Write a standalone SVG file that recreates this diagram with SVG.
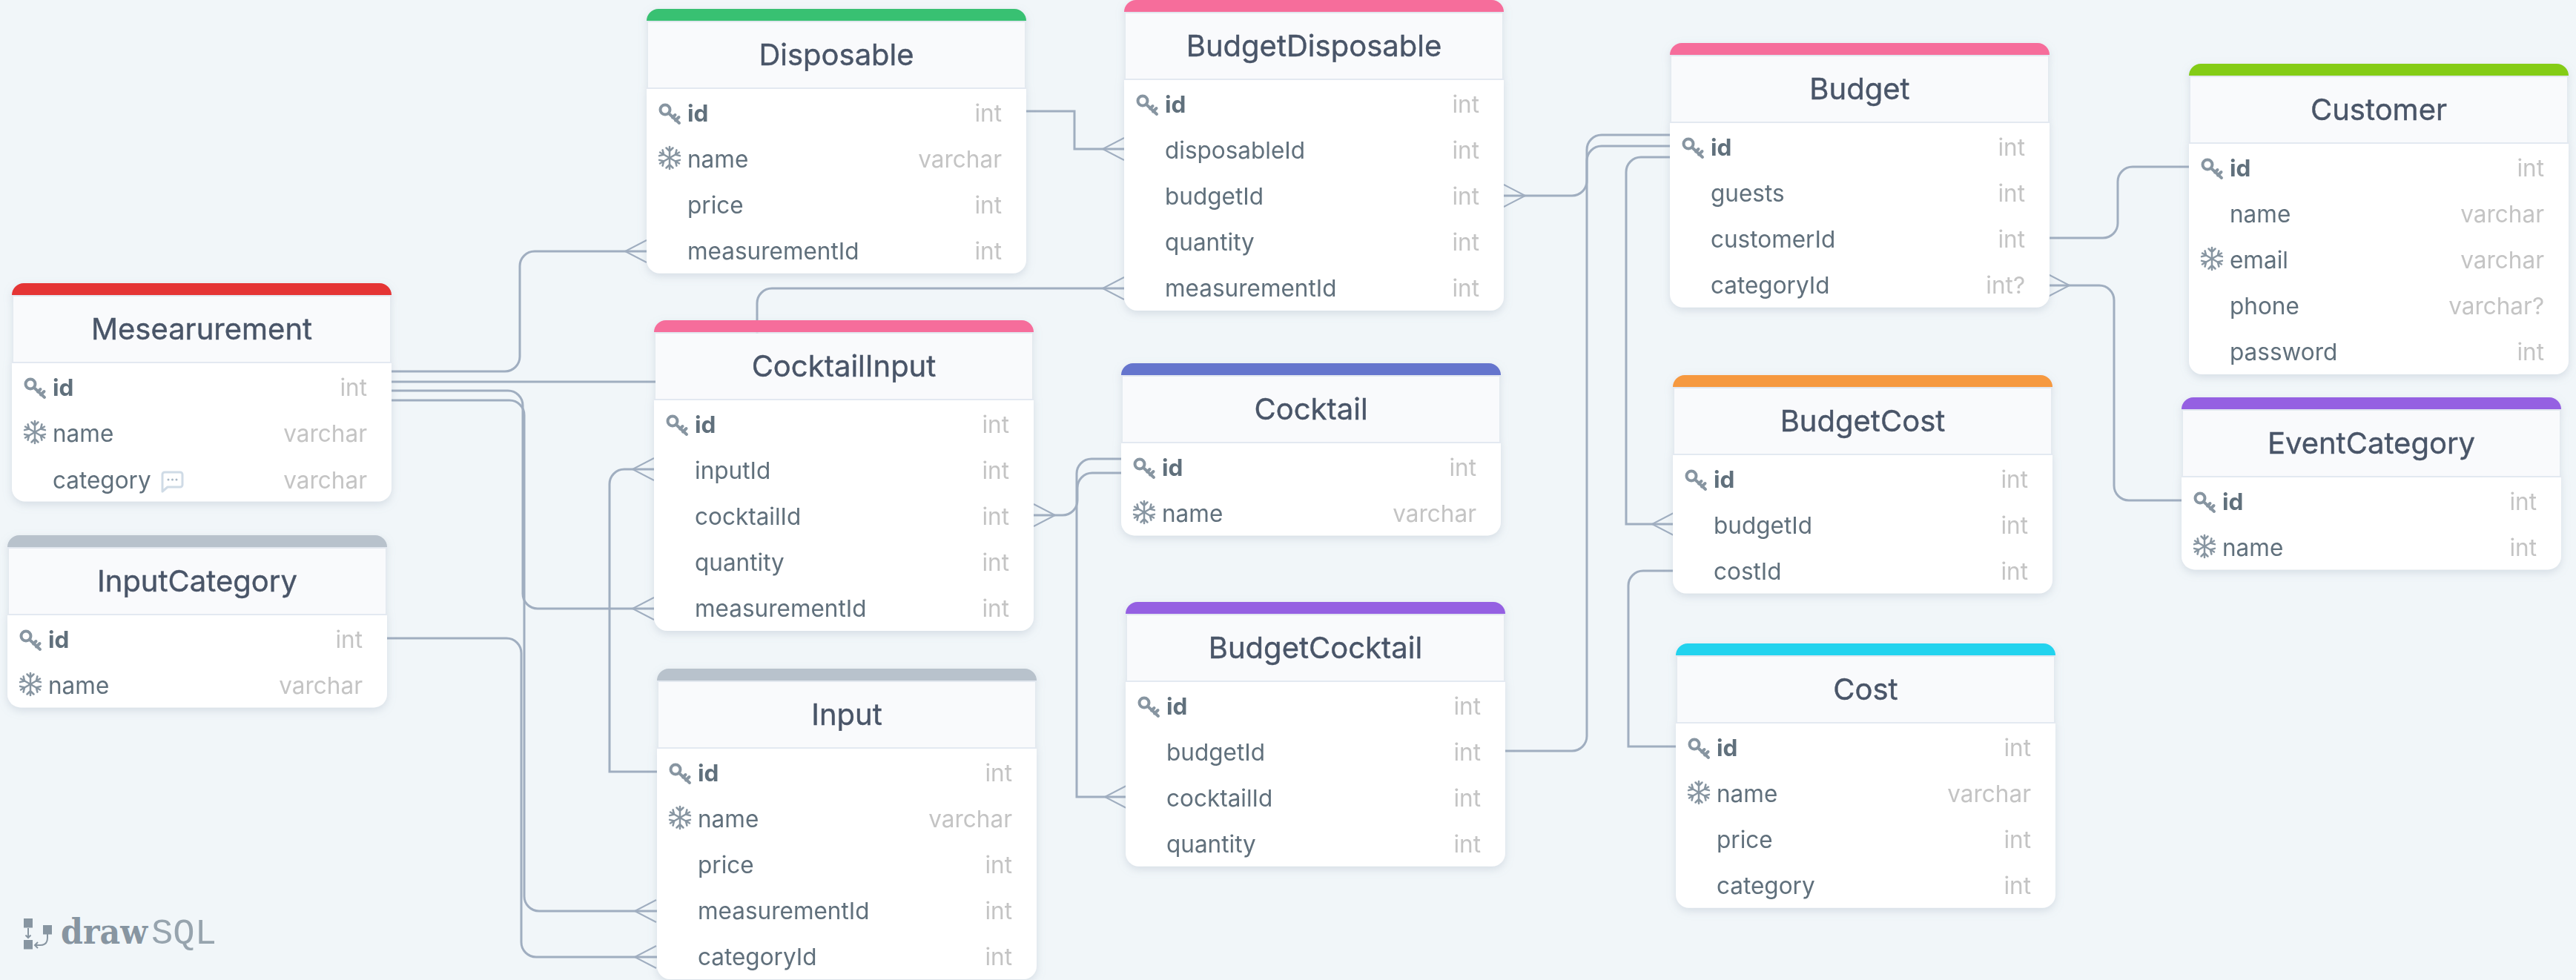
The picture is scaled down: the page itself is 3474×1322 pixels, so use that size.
<svg xmlns="http://www.w3.org/2000/svg" width="3474" height="1322" viewBox="0 0 3474 1322">
<style>
.bg{fill:#f1f6f9}
.node{filter:url(#sh)}
.hd{fill:#f9fafc}
.ln{fill:#e3e9f1}
.bd{fill:#fff}
text{font-family:Inter,"Noto Sans","Liberation Sans",sans-serif}
.t{font-size:40px;font-weight:400;fill:#4a5568;text-anchor:middle;stroke:#4a5568;stroke-width:.4px}
.n{font-size:31.500px;fill:#606f7b}
.b{font-size:31.500px;fill:#606f7b;font-weight:700}
.y{font-size:31.500px;fill:#c4c4c4;text-anchor:end}
.c{fill:none;stroke:#a0aec0;stroke-width:3}
.f{fill:none;stroke:#a0aec0;stroke-width:2}
.ic{fill:none;stroke:#8795a1;stroke-width:4;stroke-linecap:round}
.is{fill:none;stroke:#8795a1;stroke-width:2.500;stroke-linecap:round}
.cm{fill:none;stroke:#cfdbe6;stroke-width:3;stroke-linejoin:round}
.logo{fill:#8795a1}
</style>
<defs>
<filter id="sh" x="-10%" y="-10%" width="120%" height="130%"><feDropShadow dx="0" dy="4" stdDeviation="6" flood-color="#8a9bad" flood-opacity=".28"/></filter>
<path id="cl" d="M29 -15L0 0L29 15"/>
<path id="cr" d="M-29 -15L0 0L-29 15"/>
<g id="key"><circle cx="-6" cy="-5" r="6.500" class="ic"/><path class="ic" d="M-1 0L13 13M4 5.500L7.500 2M8 9.500L12.500 5"/></g>
<path id="arm" class="is" d="M0 -15V15M-4.500 -13.500L0 -9L4.500 -13.500M-4.500 13.500L0 9L4.500 13.500"/>
<g id="snow"><use href="#arm"/><use href="#arm" transform="rotate(60)"/><use href="#arm" transform="rotate(120)"/></g>
<g id="head"><rect class="hd" x="2" y="18" width="508" height="88"/><rect class="ln" x="0" y="16" width="512" height="2" opacity=".8"/><rect class="ln" x="0" y="106" width="512" height="2"/></g>
<path id="b2" class="bd" d="M0 108H512V214.400a18 18 0 0 1-18 18H18a18 18 0 0 1-18-18Z"/>
<path id="b3" class="bd" d="M0 108H512V276.600a18 18 0 0 1-18 18H18a18 18 0 0 1-18-18Z"/>
<path id="b4" class="bd" d="M0 108H512V338.800a18 18 0 0 1-18 18H18a18 18 0 0 1-18-18Z"/>
<path id="b5" class="bd" d="M0 108H512V401a18 18 0 0 1-18 18H18a18 18 0 0 1-18-18Z"/>
<path id="band" d="M0 16A16 16 0 0 1 16 0H496A16 16 0 0 1 512 16Z"/>
</defs>
<rect class="bg" width="3474" height="1322"/>
<g id="connectors">
<path class="c" d="M528 501H681a20 20 0 0 0 20-20V359a20 20 0 0 1 20-20H872"/><use href="#cl" class="f" x="843" y="339"/>
<path class="c" d="M528 515H1021V409a20 20 0 0 1 20-20H1516"/><use href="#cl" class="f" x="1487" y="389"/>
<path class="c" d="M528 527H685a20 20 0 0 1 20 20V801a20 20 0 0 0 20 20H882"/><use href="#cl" class="f" x="853" y="821"/>
<path class="c" d="M528 540H687a20 20 0 0 1 20 20V1209a20 20 0 0 0 20 20H886"/><use href="#cl" class="f" x="856" y="1229"/>
<path class="c" d="M522 861H683a20 20 0 0 1 20 20V1271a20 20 0 0 0 20 20H886"/><use href="#cl" class="f" x="856" y="1291"/>
<path class="c" d="M886 1041H822V653a20 20 0 0 1 20-20H882"/><use href="#cl" class="f" x="853" y="633"/>
<path class="c" d="M1384 150H1449V201H1516"/><use href="#cl" class="f" x="1487" y="201"/>
<path class="c" d="M1394 695H1433a20 20 0 0 0 20-20V658a20 20 0 0 1 20-20H1512"/><use href="#cr" class="f" x="1423" y="695"/>
<path class="c" d="M1512 619H1472a20 20 0 0 0-20 20V1075H1518"/><use href="#cl" class="f" x="1490" y="1075"/>
<path class="c" d="M2030 1013H2120a20 20 0 0 0 20-20V202a20 20 0 0 1 20-20H2252"/>
<path class="c" d="M2028 264H2120a20 20 0 0 0 20-20V217a20 20 0 0 1 20-20H2252"/><use href="#cr" class="f" x="2057" y="264"/>
<path class="c" d="M2256 707H2193V232a20 20 0 0 1 20-20H2252"/><use href="#cl" class="f" x="2228" y="707"/>
<path class="c" d="M2256 770H2216a20 20 0 0 0-20 20V1007H2260"/>
<path class="c" d="M2764 321H2836a20 20 0 0 0 20-20V245a20 20 0 0 1 20-20H2952"/>
<path class="c" d="M2764 385H2831a20 20 0 0 1 20 20V655a20 20 0 0 0 20 20H2942"/><use href="#cr" class="f" x="2791" y="385"/>
</g>
<g id="Disposable" class="node" transform="translate(872,12)"><use href="#b4"/><use href="#head"/><use href="#band" fill="#38c172"/>
<text class="t" x="256" y="76">Disposable</text>
<use href="#key" x="31" y="141"/><text class="b" x="55" y="151.500">id</text><text class="y" x="479" y="151.500">int</text>
<use href="#snow" x="31" y="201"/><text class="n" x="55" y="213.700">name</text><text class="y" x="479" y="213.700">varchar</text>
<text class="n" x="55" y="275.900">price</text><text class="y" x="479" y="275.900">int</text>
<text class="n" x="55" y="338.100">measurementId</text><text class="y" x="479" y="338.100">int</text></g>
<g id="BudgetDisposable" class="node" transform="translate(1516,0)"><use href="#b5"/><use href="#head"/><use href="#band" fill="#f66d9b"/>
<text class="t" x="256" y="76">BudgetDisposable</text>
<use href="#key" x="31" y="141"/><text class="b" x="55" y="151.500">id</text><text class="y" x="479" y="151.500">int</text>
<text class="n" x="55" y="213.700">disposableId</text><text class="y" x="479" y="213.700">int</text>
<text class="n" x="55" y="275.900">budgetId</text><text class="y" x="479" y="275.900">int</text>
<text class="n" x="55" y="338.100">quantity</text><text class="y" x="479" y="338.100">int</text>
<text class="n" x="55" y="400.300">measurementId</text><text class="y" x="479" y="400.300">int</text></g>
<g id="Budget" class="node" transform="translate(2252,58)"><use href="#b4"/><use href="#head"/><use href="#band" fill="#f66d9b"/>
<text class="t" x="256" y="76">Budget</text>
<use href="#key" x="31" y="141"/><text class="b" x="55" y="151.500">id</text><text class="y" x="479" y="151.500">int</text>
<text class="n" x="55" y="213.700">guests</text><text class="y" x="479" y="213.700">int</text>
<text class="n" x="55" y="275.900">customerId</text><text class="y" x="479" y="275.900">int</text>
<text class="n" x="55" y="338.100">categoryId</text><text class="y" x="479" y="338.100">int?</text></g>
<g id="Customer" class="node" transform="translate(2952,86)"><use href="#b5"/><use href="#head"/><use href="#band" fill="#84cc16"/>
<text class="t" x="256" y="76">Customer</text>
<use href="#key" x="31" y="141"/><text class="b" x="55" y="151.500">id</text><text class="y" x="479" y="151.500">int</text>
<text class="n" x="55" y="213.700">name</text><text class="y" x="479" y="213.700">varchar</text>
<use href="#snow" x="31" y="263"/><text class="n" x="55" y="275.900">email</text><text class="y" x="479" y="275.900">varchar</text>
<text class="n" x="55" y="338.100">phone</text><text class="y" x="479" y="338.100">varchar?</text>
<text class="n" x="55" y="400.300">password</text><text class="y" x="479" y="400.300">int</text></g>
<g id="Mesearurement" class="node" transform="translate(16,382)"><use href="#b3"/><use href="#head"/><use href="#band" fill="#e53535"/>
<text class="t" x="256" y="76">Mesearurement</text>
<use href="#key" x="31" y="141"/><text class="b" x="55" y="151.500">id</text><text class="y" x="479" y="151.500">int</text>
<use href="#snow" x="31" y="201"/><text class="n" x="55" y="213.700">name</text><text class="y" x="479" y="213.700">varchar</text>
<text class="n" x="55" y="276.500">category</text><path class="cm" d="M203 258a3 3 0 0 1 3-3h21a3 3 0 0 1 3 3v14a3 3 0 0 1-3 3h-17l-7 6Z"/><circle cx="211" cy="265" r="1.500" fill="#a9b8c6"/><circle cx="216.500" cy="265" r="1.500" fill="#a9b8c6"/><circle cx="222" cy="265" r="1.500" fill="#a9b8c6"/><text class="y" x="479" y="276.500">varchar</text></g>
<g id="CocktailInput" class="node" transform="translate(882,432)"><use href="#b5"/><use href="#head"/><use href="#band" fill="#f66d9b"/>
<text class="t" x="256" y="76">CocktailInput</text>
<use href="#key" x="31" y="141"/><text class="b" x="55" y="151.500">id</text><text class="y" x="479" y="151.500">int</text>
<text class="n" x="55" y="213.700">inputId</text><text class="y" x="479" y="213.700">int</text>
<text class="n" x="55" y="275.900">cocktailId</text><text class="y" x="479" y="275.900">int</text>
<text class="n" x="55" y="338.100">quantity</text><text class="y" x="479" y="338.100">int</text>
<text class="n" x="55" y="400.300">measurementId</text><text class="y" x="479" y="400.300">int</text></g>
<g id="Cocktail" class="node" transform="translate(1512,490)"><use href="#b2"/><use href="#head"/><use href="#band" fill="#6574cd"/>
<text class="t" x="256" y="76">Cocktail</text>
<use href="#key" x="31" y="141"/><text class="b" x="55" y="151.500">id</text><text class="y" x="479" y="151.500">int</text>
<use href="#snow" x="31" y="201"/><text class="n" x="55" y="213.700">name</text><text class="y" x="479" y="213.700">varchar</text></g>
<g id="BudgetCocktail" class="node" transform="translate(1518,812)"><use href="#b4"/><use href="#head"/><use href="#band" fill="#9561e2"/>
<text class="t" x="256" y="76">BudgetCocktail</text>
<use href="#key" x="31" y="141"/><text class="b" x="55" y="151.500">id</text><text class="y" x="479" y="151.500">int</text>
<text class="n" x="55" y="213.700">budgetId</text><text class="y" x="479" y="213.700">int</text>
<text class="n" x="55" y="275.900">cocktailId</text><text class="y" x="479" y="275.900">int</text>
<text class="n" x="55" y="338.100">quantity</text><text class="y" x="479" y="338.100">int</text></g>
<g id="BudgetCost" class="node" transform="translate(2256,506)"><use href="#b3"/><use href="#head"/><use href="#band" fill="#f6993f"/>
<text class="t" x="256" y="76">BudgetCost</text>
<use href="#key" x="31" y="141"/><text class="b" x="55" y="151.500">id</text><text class="y" x="479" y="151.500">int</text>
<text class="n" x="55" y="213.700">budgetId</text><text class="y" x="479" y="213.700">int</text>
<text class="n" x="55" y="275.900">costId</text><text class="y" x="479" y="275.900">int</text></g>
<g id="EventCategory" class="node" transform="translate(2942,536)"><use href="#b2"/><use href="#head"/><use href="#band" fill="#9561e2"/>
<text class="t" x="256" y="76">EventCategory</text>
<use href="#key" x="31" y="141"/><text class="b" x="55" y="151.500">id</text><text class="y" x="479" y="151.500">int</text>
<use href="#snow" x="31" y="201"/><text class="n" x="55" y="213.700">name</text><text class="y" x="479" y="213.700">int</text></g>
<g id="Cost" class="node" transform="translate(2260,868)"><use href="#b4"/><use href="#head"/><use href="#band" fill="#22d3ee"/>
<text class="t" x="256" y="76">Cost</text>
<use href="#key" x="31" y="141"/><text class="b" x="55" y="151.500">id</text><text class="y" x="479" y="151.500">int</text>
<use href="#snow" x="31" y="201"/><text class="n" x="55" y="213.700">name</text><text class="y" x="479" y="213.700">varchar</text>
<text class="n" x="55" y="275.900">price</text><text class="y" x="479" y="275.900">int</text>
<text class="n" x="55" y="338.100">category</text><text class="y" x="479" y="338.100">int</text></g>
<g id="InputCategory" class="node" transform="translate(10,722)"><use href="#b2"/><use href="#head"/><use href="#band" fill="#b8c2cc"/>
<text class="t" x="256" y="76">InputCategory</text>
<use href="#key" x="31" y="141"/><text class="b" x="55" y="151.500">id</text><text class="y" x="479" y="151.500">int</text>
<use href="#snow" x="31" y="201"/><text class="n" x="55" y="213.700">name</text><text class="y" x="479" y="213.700">varchar</text></g>
<g id="Input" class="node" transform="translate(886,902)"><use href="#b5"/><use href="#head"/><use href="#band" fill="#b8c2cc"/>
<text class="t" x="256" y="76">Input</text>
<use href="#key" x="31" y="141"/><text class="b" x="55" y="151.500">id</text><text class="y" x="479" y="151.500">int</text>
<use href="#snow" x="31" y="201"/><text class="n" x="55" y="213.700">name</text><text class="y" x="479" y="213.700">varchar</text>
<text class="n" x="55" y="275.900">price</text><text class="y" x="479" y="275.900">int</text>
<text class="n" x="55" y="338.100">measurementId</text><text class="y" x="479" y="338.100">int</text>
<text class="n" x="55" y="400.300">categoryId</text><text class="y" x="479" y="400.300">int</text></g>
<g id="logo">
<rect class="logo" x="32" y="1239" width="12" height="12.500"/><rect class="logo" x="32" y="1268" width="12" height="12.500"/><rect class="logo" x="58" y="1248" width="12" height="12.500"/>
<path fill="none" stroke="#8795a1" stroke-width="2" d="M38 1252V1265M34.500 1261.500L38 1265L41.500 1261.500M64 1260V1265q0 10-10 10H47M51 1271L47 1275L51 1279"/>
<text x="82" y="1273" textLength="117" lengthAdjust="spacingAndGlyphs" style="font-family:'DejaVu Serif',serif;font-weight:700;font-size:46px;fill:#8795a1">draw</text>
<text x="204" y="1273" textLength="88" lengthAdjust="spacingAndGlyphs" style="font-family:'Liberation Mono',monospace;font-size:49px;fill:#8795a1;fill-opacity:.85">SQL</text>
</g>
</svg>
